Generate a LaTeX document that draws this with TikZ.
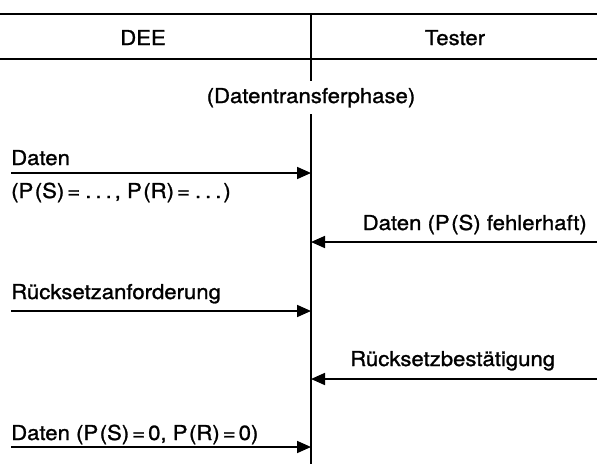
\documentclass[tikz,border=0pt]{standalone}
\usepackage{fontspec}
\setmainfont{TeX Gyre Heros}[FakeStretch=1.08,FakeBold=1.2]
\usetikzlibrary{arrows.meta}
\begin{document}
\begin{tikzpicture}[x=1pt,y=-1pt,
  rule/.style={line width=2pt},
  lifeline/.style={line width=1.7pt},
  msg/.style={line width=1.7pt,-{Triangle[length=14pt,width=12pt]}},
  lbl/.style={font=\fontsize{20.5}{24}\selectfont, inner sep=0pt},
]
\useasboundingbox (0,0) rectangle (597,466);

% header rules and column separator
\coordinate (tl) at (0,14);
\coordinate (tr) at (597,14);
\coordinate (hl) at (0,59);
\coordinate (hr) at (597,59);
\coordinate (top) at (311,14);
\coordinate (bot) at (311,464);
\draw[rule] (tl) -- (tr);
\draw[rule] (hl) -- (hr);
\draw[lifeline] (top) -- (bot);

\node[lbl, anchor=base] (dee) at (143,45) {DEE};
\node[lbl, anchor=base] (tester) at (455,45) {Tester};
\node[lbl, anchor=base, fill=white, inner ysep=7pt] (phase) at (311,103) {(Datentransferphase)};

% message endpoints
\coordinate (a1) at (11,173);   \coordinate (b1) at (311,173);
\coordinate (a2) at (597,242);  \coordinate (b2) at (311,242);
\coordinate (a3) at (11,311);   \coordinate (b3) at (311,311);
\coordinate (a4) at (597,379);  \coordinate (b4) at (311,379);
\coordinate (a5) at (11,447);   \coordinate (b5) at (311,447);

\draw[msg] (a1) -- (b1);
\draw[msg] (a2) -- (b2);
\draw[msg] (a3) -- (b3);
\draw[msg] (a4) -- (b4);
\draw[msg] (a5) -- (b5);

\node[lbl, anchor=base west] (m1) at (11,165) {Daten};
\node[lbl, anchor=base west] (m1b) at (11,198)
  {(P\kern1.5pt(S)\kern3pt=\kern5pt.\kern4pt.\kern4pt.\kern3pt, P\kern1.5pt(R)\kern3pt=\kern5pt.\kern4pt.\kern4pt.\kern2pt)};
\node[lbl, anchor=base east] (m2) at (587,230) {Daten (P\kern1.5pt(S) fehlerhaft)};
\node[lbl, anchor=base west] (m3) at (11,299) {Rücksetzanforderung};
\node[lbl, anchor=base west] (m4) at (350,366) {Rücksetzbestätigung};
\node[lbl, anchor=base west] (m5) at (11,440)
  {Daten (P\kern1.5pt(S)\kern3pt=\kern3pt0, P\kern1.5pt(R)\kern3pt=\kern3pt0)};
\end{tikzpicture}
\end{document}
